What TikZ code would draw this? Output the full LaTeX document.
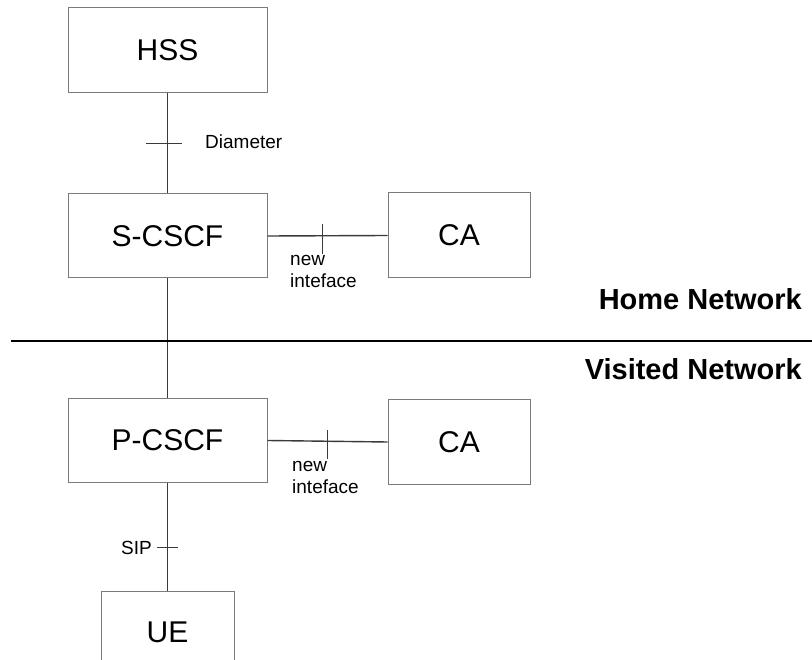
\documentclass[tikz,border=0pt]{standalone}
\usepackage{fontspec}
\setmainfont{Liberation Sans}
\usepackage{tikz}

\definecolor{boxline}{HTML}{7A7A7A}
\definecolor{wire}{HTML}{3A3A3A}

\begin{document}
\begin{tikzpicture}[x=1pt,y=-1pt,
  box/.style={rectangle,draw=boxline,line width=1pt,inner sep=0pt,
    font=\fontsize{30}{34}\selectfont},
  wireline/.style={draw=wire,line width=1.4pt},
  lbl/.style={inner sep=0pt,font=\fontsize{19}{22}\selectfont},
  netlbl/.style={inner sep=0pt,font=\fontsize{29}{32}\selectfont\bfseries}]
\clip (0,0) rectangle (812,660);

\node[box,minimum width=199pt,minimum height=85pt] (hss) at (167.5,50.5) {HSS};
\node[box,minimum width=199pt,minimum height=84pt] (scscf) at (167.5,236) {S-CSCF};
\node[box,minimum width=142pt,minimum height=85pt] (ca1) at (459,235.5) {CA};
\node[box,minimum width=199pt,minimum height=83pt] (pcscf) at (167.5,440.5) {P-CSCF};
\node[box,minimum width=142pt,minimum height=84pt] (ca2) at (459,442) {CA};
\node[box,minimum width=133pt,minimum height=110pt,anchor=north] (ue) at (167.5,591) {};
\node[box,draw=none] at (167.5,632) {UE};

% links between the elements
\draw[wireline] (hss) -- (scscf) coordinate[pos=0.5] (dia);
\draw[wireline] (scscf.east) -- (ca1.west) coordinate[pos=0.46] (ni1);
\draw[wireline] (scscf) -- (pcscf);
\draw[wireline] (pcscf.east) -- (ca2.west) coordinate[pos=0.5] (ni2);
\draw[wireline] (pcscf) -- (ue) coordinate[pos=0.6] (sip);

% interface ticks
\draw[wireline] ([xshift=-22pt]dia) -- ([xshift=14pt]dia);
\draw[wireline] ([yshift=-18pt]ni1) -- ([yshift=12pt]ni1);
\draw[wireline] ([yshift=-18pt]ni2) -- ([yshift=11pt]ni2);
\draw[wireline] ([xshift=-11pt]sip) -- ([xshift=10pt]sip);

\node[lbl,anchor=base west] (dialbl) at (205,149) {Diameter};
\node[lbl,anchor=north west,align=left] (ni1lbl) at (290,255) {new\\inteface};
\node[lbl,anchor=north west,align=left] (ni2lbl) at (292,461) {new\\inteface};
\node[lbl,anchor=base east] (siplbl) at (152,554) {SIP};

% border between the two networks
\coordinate (bl) at (11,341);
\coordinate (br) at (812,341);
\draw[line width=1.5pt] (bl) -- (br);
\node[netlbl,anchor=base east] (home) at (802,310) {Home Network};
\node[netlbl,anchor=base east] (visited) at (802,380) {Visited Network};
\end{tikzpicture}
\end{document}
